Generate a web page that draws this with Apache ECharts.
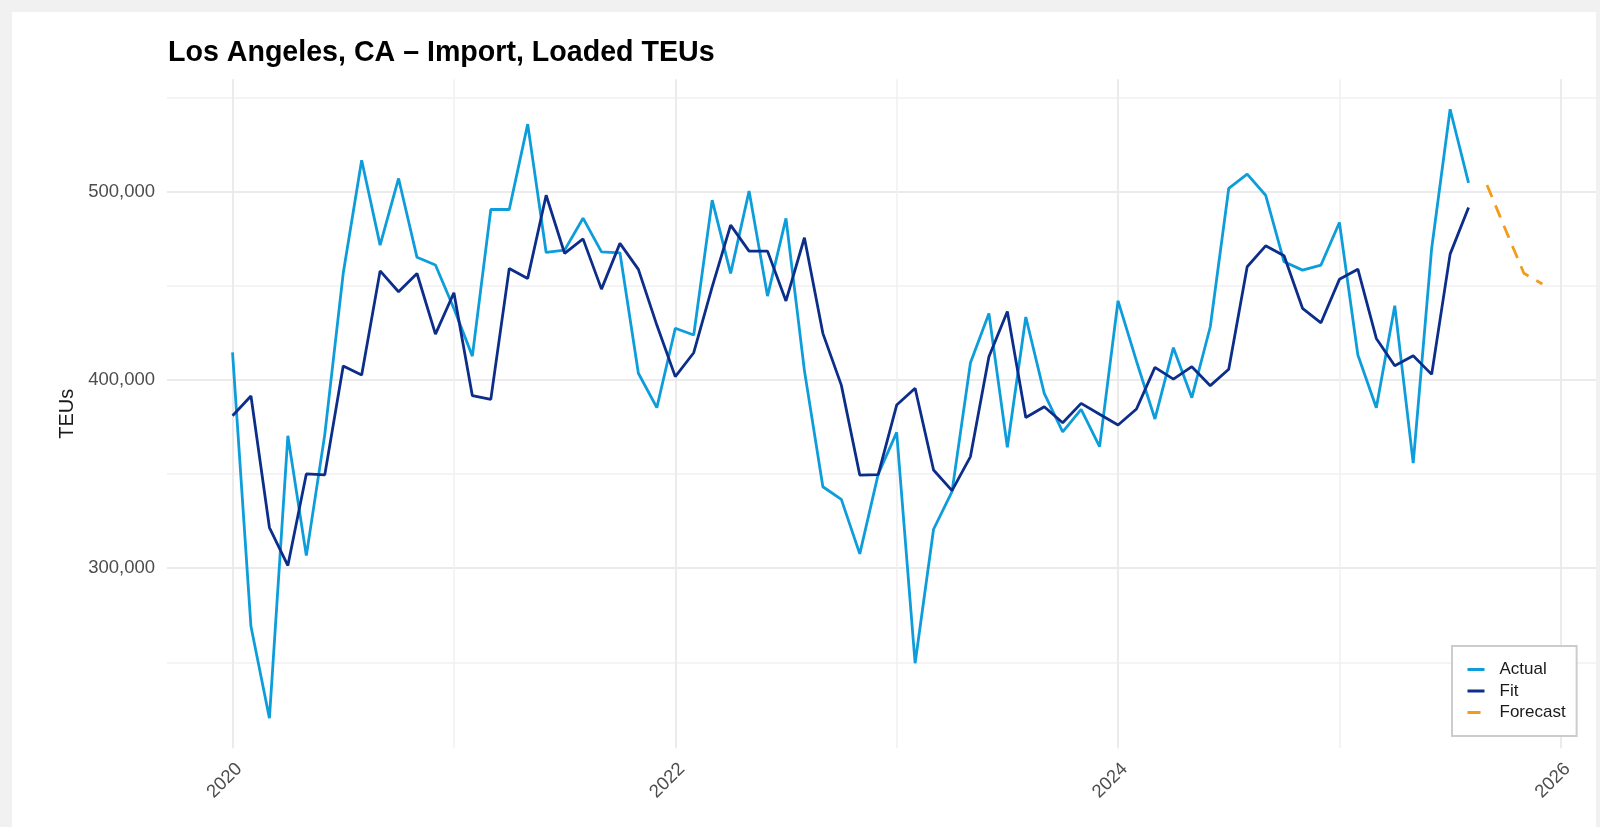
<!DOCTYPE html>
<html>
<head>
<meta charset="utf-8">
<title>Los Angeles, CA – Import, Loaded TEUs</title>
<script src="https://cdn.jsdelivr.net/npm/echarts@6.0.0/dist/echarts.min.js"></script>
<style>
  html, body { margin: 0; padding: 0; background: #f1f1f1; }
  #chart { position: absolute; left: 12px; top: 12px; width: 1584px; height: 815px; background: #fff; }
</style>
</head>
<body>
<div id="chart"></div>
<script>
// monthly values, Jan 2020 .. Aug 2025
var actual = [
  414700, 269000, 220300, 370400, 306700, 371000, 456700, 516800, 471700, 507100, 465200, 461100,
  438000, 412700, 490600, 490600, 536000, 467800, 469000, 486000, 468100, 467600, 403600, 385300,
  427500, 423900, 495600, 456700, 500400, 444600, 485900, 405000, 343300, 336600, 307600, 350000,
  372200, 249500, 320700, 340700, 409200, 435400, 364300, 433500, 392900, 372500, 384400, 364600,
  442100, 410000, 379300, 417200, 390600, 428300, 501800, 509400, 498200, 462800, 458400, 461100,
  483700, 413300, 385300, 439500, 355800, 469900, 543900, 504800
]
var fit = [
  381000, 391500, 321600, 301400, 350100, 349600, 407400, 402700, 458000, 446900, 456600, 424400,
  446400, 391700, 389700, 459300, 454000, 498200, 467300, 475000, 448300, 472600, 458800, 429200,
  401800, 414500, 449500, 482300, 468500, 468500, 442000, 475600, 424800, 397300, 349500, 349700,
  386700, 395600, 352200, 341200, 359300, 412400, 436400, 380100, 385800, 377300, 387600, 381800,
  376100, 384600, 406700, 400500, 407100, 397000, 405700, 460200, 471300, 466000, 438100, 430400,
  453500, 458900, 422100, 407600, 412900, 403000, 466900, 491700
]
// Sep .. Dec 2025
var forecast = [503600, 480000, 456700, 451000]

var startYear = 2020
var forecastStart = 68 // month index of Sep 2025

var xTicks = [2020, 2022, 2024, 2026]
var xMinorTicks = [2021, 2023, 2025]
var yTicks = [300000, 400000, 500000]
var yMinorTicks = [250000, 350000, 450000, 550000]

// month index -> decimal year for the value axis
function monthX(i) {
  return startYear + i / 12
}

function toPairs(values, offset) {
  return values.map(function (v, i) {
    return [monthX(i + offset), v]
  })
}

var xMin = 2019.704, xMax = 2026.159
var yMin = 204300, yMax = 559800

var chart = echarts.init(document.getElementById('chart'))

var hidden = { show: false }

var option = {
  animation: false,
  backgroundColor: '#ffffff',
  textStyle: { fontFamily: 'Liberation Sans, Arial, sans-serif' },
  title: {
    text: 'Los Angeles, CA – Import, Loaded TEUs',
    left: 156,
    top: 27,
    padding: 0,
    textStyle: { fontSize: 28.6, fontWeight: 'bold', color: '#000000' }
  },
  grid: { left: 155, right: 0, top: 67.3, bottom: 78.7 },
  legend: {
    orient: 'vertical',
    left: 1440,
    top: 634,
    padding: [15, 11, 15, 14],
    itemWidth: 17,
    itemHeight: 14,
    itemGap: 4.5,
    borderColor: '#cccccc',
    borderWidth: 2,
    backgroundColor: '#ffffff',
    // hide the marker dot, keep the line key
    itemStyle: { color: 'rgba(0,0,0,0)', borderWidth: 0 },
    lineStyle: { width: 3 },
    textStyle: { fontSize: 17, color: '#1a1a1a', padding: [0, 0, 0, 10] },
    data: ['Actual', 'Fit', 'Forecast']
  },
  xAxis: [
    {
      type: 'value',
      min: xMin,
      max: xMax,
      axisLine: hidden,
      axisTick: { show: false, customValues: xTicks },
      axisLabel: {
        customValues: xTicks,
        rotate: 45,
        verticalAlign: 'top',
        margin: 11,
        fontSize: 18.5,
        color: '#4d4d4d',
        formatter: function (v) { return String(Math.round(v)) }
      },
      splitLine: { show: true, lineStyle: { color: '#ebebeb', width: 2 } }
    },
    {
      type: 'value',
      position: 'top',
      min: xMin,
      max: xMax,
      axisLine: hidden,
      axisTick: { show: false, customValues: xMinorTicks },
      axisLabel: { show: false, customValues: xMinorTicks },
      splitLine: { show: true, lineStyle: { color: '#f0f0f0', width: 1.5 } }
    }
  ],
  yAxis: [
    {
      type: 'value',
      min: yMin,
      max: yMax,
      name: 'TEUs',
      nameLocation: 'middle',
      nameGap: 85,
      nameTextStyle: { fontSize: 20, color: '#1a1a1a' },
      axisLine: hidden,
      axisTick: { show: false, customValues: yTicks },
      axisLabel: {
        customValues: yTicks,
        margin: 12,
        fontSize: 18.5,
        color: '#4d4d4d',
        formatter: function (v) { return v.toLocaleString('en-US') }
      },
      splitLine: { show: true, lineStyle: { color: '#ebebeb', width: 2 } }
    },
    {
      type: 'value',
      position: 'right',
      min: yMin,
      max: yMax,
      axisLine: hidden,
      axisTick: { show: false, customValues: yMinorTicks },
      axisLabel: { show: false, customValues: yMinorTicks },
      splitLine: { show: true, lineStyle: { color: '#f0f0f0', width: 1.5 } }
    }
  ],
  series: [
    {
      name: 'Actual',
      type: 'line',
      symbol: 'none',
      color: '#0d9ddb',
      lineStyle: { width: 2.8, color: '#0d9ddb' },
      data: toPairs(actual, 0)
    },
    {
      name: 'Fit',
      type: 'line',
      symbol: 'none',
      color: '#0c2e8a',
      lineStyle: { width: 2.8, color: '#0c2e8a' },
      data: toPairs(fit, 0)
    },
    {
      name: 'Forecast',
      type: 'line',
      symbol: 'none',
      color: '#f39c1a',
      lineStyle: { width: 2.8, color: '#f39c1a', type: [13, 9] },
      data: toPairs(forecast, forecastStart)
    }
  ]
}

chart.setOption(option)
</script>
</body>
</html>
